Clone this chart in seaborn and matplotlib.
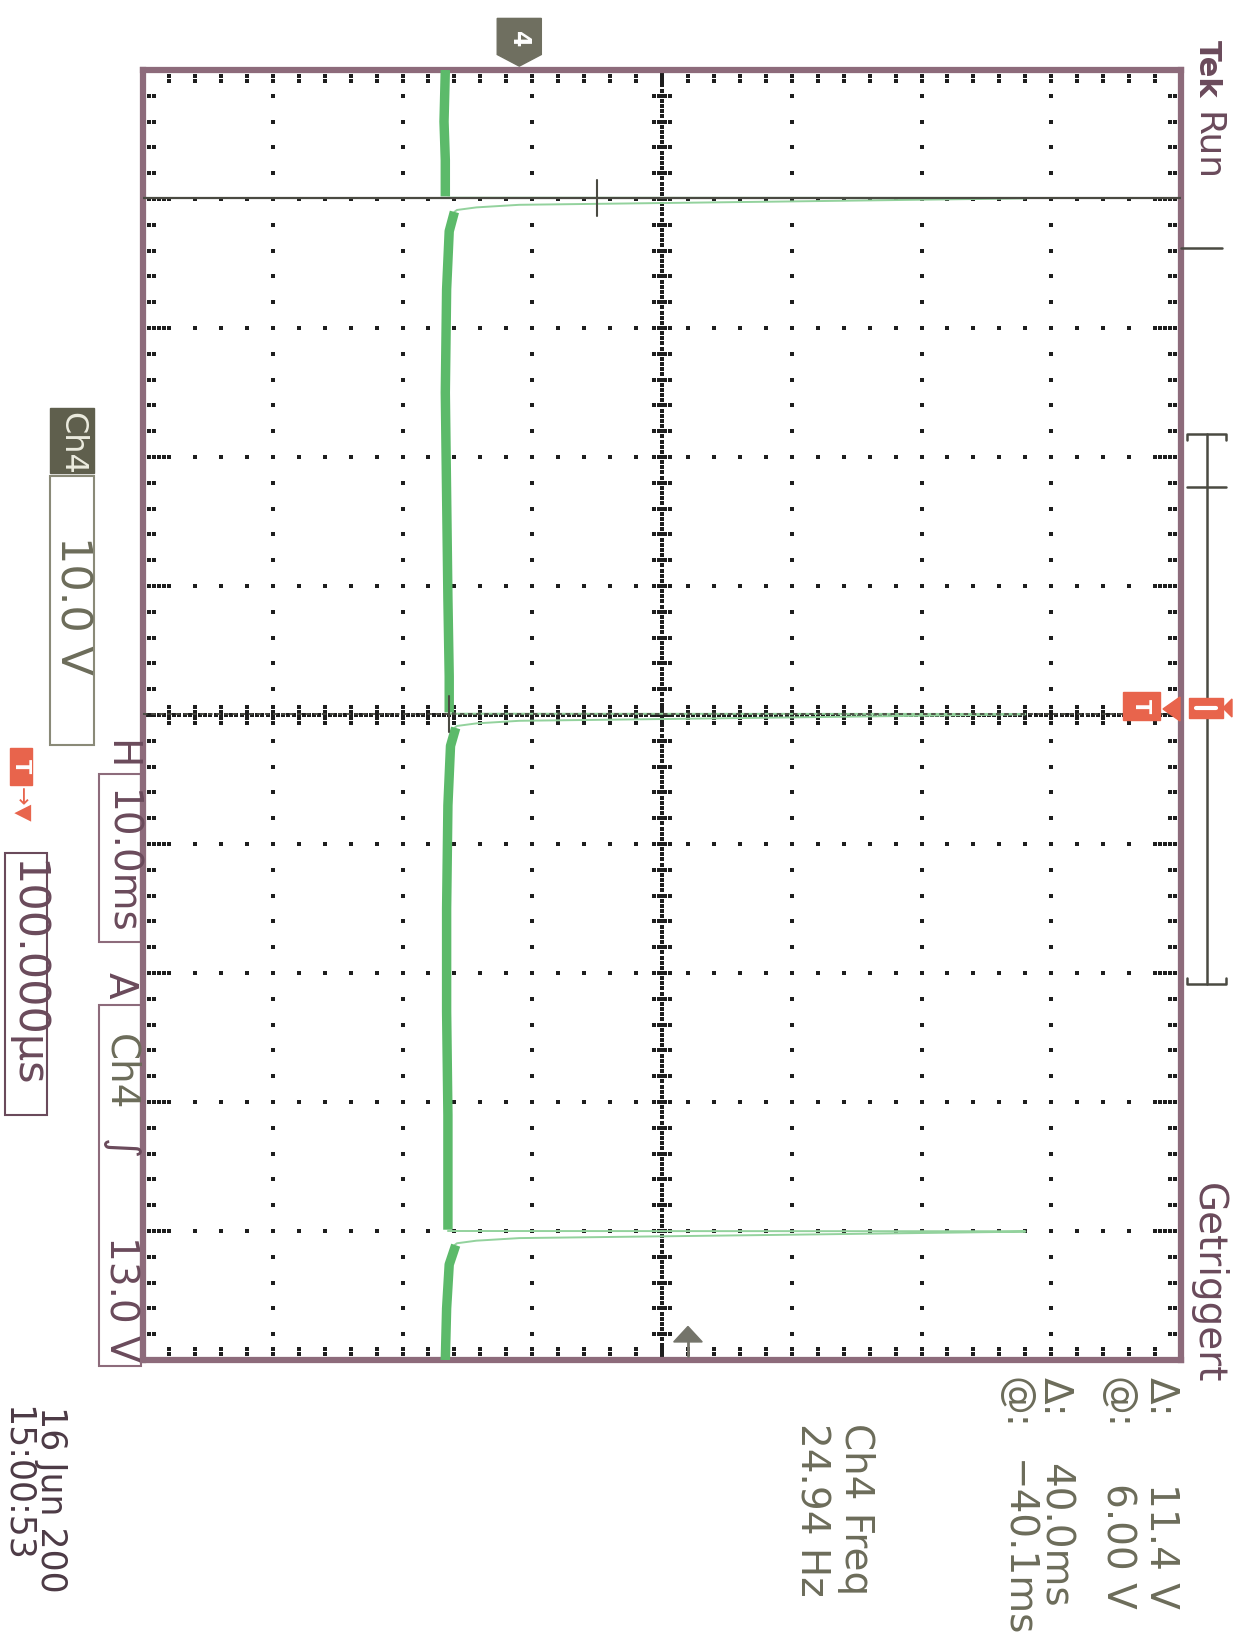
import numpy as np
import pandas as pd
import matplotlib
matplotlib.use("Agg")
import matplotlib.pyplot as plt
import seaborn as sns
from matplotlib.patches import Rectangle, Polygon

# scope settings
volts_div = 10.0
ms_div = 10.0
v_center = 11.0          # ground marker sits 1.1 div below screen centre
trig_level = 13.0

# waveform (time in ms, level in V)
pulse_times = [-40.1, -0.1, 40.0]
pulse_dt = [0.0, 0.02, 0.05, 0.3, 0.55, 0.75, 0.95, 1.1]
pulse_v = [-5.5, 39.0, 39.0, 20.0, 0.0, -3.3, -4.8, -5.0]

base_t = [[-50, -46, -43, -40.2],
          [-39.0, -37.5, -33, -25, -17, -9, -3, -0.2],
          [1.0, 2.4, 7, 15, 23, 31, 37, 39.9],
          [41.1, 42.6, 46, 50]]
base_v = [[-5.7, -5.8, -5.7, -5.7],
          [-5.0, -5.4, -5.6, -5.7, -5.6, -5.5, -5.4, -5.4],
          [-4.9, -5.3, -5.5, -5.6, -5.6, -5.5, -5.5, -5.5],
          [-4.9, -5.4, -5.6, -5.7]]

cursor_times = [-40.1, -0.1]
cursor_levels = [6.0, -5.4]

readouts = [("Δ:", "11.4 V"), ("@:", "6.00 V"), ("Δ:", "40.0ms"), ("@:", "−40.1ms")]
freq_text = ["Ch4 Freq", "24.94 Hz"]
date_text = ["16 Jun 200", "15:00:53"]

# colours
mauve = "#8d6b7b"
purple = "#6a4a5b"
olive = "#6c6c5a"
green = "#5cba6a"
orange = "#e8644c"
cursor_col = "#4a4a42"

W, H = 1235, 1641
fig = plt.figure(figsize=(W / 100, H / 100), dpi=100)
sns.set_style("white")

left, right, top, bottom = 143, 1181, 70, 1360
ax = fig.add_axes([left / W, 1 - bottom / H, (right - left) / W, (bottom - top) / H])
ax.set_facecolor("none")

vmin, vmax = v_center - 4 * volts_div, v_center + 4 * volts_div
tmin, tmax = -5 * ms_div, 5 * ms_div
pv = (vmax - vmin) / (right - left)   # V per pixel
pt = (tmax - tmin) / (bottom - top)   # ms per pixel

# graticule dots
gx, gy = [], []
for k in range(-3, 4):
    v = v_center + k * volts_div
    if k == 0:
        tt = np.linspace(tmin, tmax, 251)[1:-1]
        for t in np.linspace(tmin, tmax, 51)[1:-1]:
            for o in (-8, -3, 3, 8):
                gx.append(v + o * pv); gy.append(t)
    else:
        tt = np.linspace(tmin, tmax, 51)[1:-1]
    gx += [v] * len(tt); gy += list(tt)
for j in range(-4, 5):
    t = j * ms_div
    if j == 0:
        vv = np.linspace(vmin, vmax, 201)[1:-1]
        for v in np.linspace(vmin, vmax, 41)[1:-1]:
            for o in (-8, -3, 3, 8):
                gx.append(v); gy.append(t + o * pt)
    else:
        vv = np.linspace(vmin, vmax, 41)[1:-1]
    gx += list(vv); gy += [t] * len(vv)
# edge ticks
for v in np.linspace(vmin, vmax, 41)[1:-1]:
    for o in (6, 11):
        gx += [v, v]; gy += [tmin + o * pt, tmax - o * pt]
for i, t in enumerate(np.linspace(tmin, tmax, 51)[1:-1]):
    offs = (6, 11, 16, 21) if (i + 1) % 5 == 0 else (6, 11)
    for o in offs:
        gx += [vmin + o * pv, vmax - o * pv]; gy += [t, t]
ax.scatter(gx, gy, s=5, marker="s", color="#1e1e1e", linewidths=0, zorder=1)

# thin fast edges of each pulse
rows = []
for n, t0 in enumerate(pulse_times):
    for dt, v in zip(pulse_dt, pulse_v):
        rows.append((n, t0 + dt, v))
thin = pd.DataFrame(rows, columns=["seg", "t", "v"])
sns.lineplot(data=thin, x="v", y="t", units="seg", estimator=None, sort=False,
             color="#93d29d", lw=1.4, legend=False, ax=ax, zorder=2)

# thick (noisy) baseline
rows = []
for n, (ts, vs) in enumerate(zip(base_t, base_v)):
    for t, v in zip(ts, vs):
        rows.append((n, t, v))
base = pd.DataFrame(rows, columns=["seg", "t", "v"])
sns.lineplot(data=base, x="v", y="t", units="seg", estimator=None, sort=False,
             color=green, lw=6.8, solid_capstyle="butt", legend=False, ax=ax, zorder=3)

# cursors
ax.axhline(cursor_times[0], color=cursor_col, lw=1.6, zorder=4)
ax.axhline(cursor_times[1], color=cursor_col, lw=1.3, ls=(0, (2.5, 2)), zorder=4)
for t, v in zip(cursor_times, cursor_levels):
    ax.plot([v, v], [t - 1.4, t + 1.4], color=cursor_col, lw=1.5, zorder=4)

ax.set_xlim(vmin, vmax)
ax.set_ylim(tmax, tmin)
ax.set_xticks([]); ax.set_yticks([])
ax.set_xlabel(""); ax.set_ylabel("")
for s in ax.spines.values():
    s.set_visible(True)
    s.set_color(mauve)
    s.set_linewidth(4.5)

# ground marker "4" at 0 V above the frame
xt = ax.get_xaxis_transform()
gnd = Polygon([(-1.7, 1.040), (1.7, 1.040), (1.7, 1.012), (0, 1.003), (-1.7, 1.012)],
              closed=True, transform=xt, clip_on=False, color="#6f6f60", zorder=6)
ax.add_patch(gnd)
ax.text(0, 1.024, "4", transform=xt, rotation=270, ha="center", va="center",
        color="white", fontsize=17, fontweight="bold", clip_on=False, zorder=7)

# trigger level arrow at the lower edge
trg = Polygon([(trig_level, 0.026), (trig_level - 1.1, 0.014), (trig_level + 1.1, 0.014)],
              closed=True, transform=xt, clip_on=False, color="#74746a", zorder=6)
ax.add_patch(trg)
ax.plot([trig_level, trig_level], [0.014, 0.003], transform=xt, color="#74746a", lw=2, zorder=6)

# overlay in pixel coordinates for the screen furniture
ov = fig.add_axes([0, 0, 1, 1])
ov.set_xlim(0, W); ov.set_ylim(H, 0)
ov.axis("off")
ov.patch.set_alpha(0)

def rtext(x, y, s, color, size=28, weight="normal", ha="center"):
    ov.text(x, y, s, rotation=270, ha=ha, va="top", color=color,
            fontsize=size, fontweight=weight, family="DejaVu Sans")

# trigger position markers on the right
ov.add_patch(Rectangle((1123, 692), 37, 28, color=orange, zorder=5))
ov.text(1141, 706, "T", rotation=270, ha="center", va="center", color="white",
        fontsize=15, fontweight="bold", zorder=6)
ov.add_patch(Polygon([(1163, 709), (1180, 697), (1180, 721)], color=orange, zorder=5))
ov.add_patch(Rectangle((1189, 698), 34, 20, color=orange, zorder=5))
ov.add_patch(Polygon([(1223, 708), (1232, 699), (1232, 717)], color=orange, zorder=5))
ov.plot([1196, 1216], [708, 708], color="white", lw=3, zorder=6)

# record view bar
bar = dict(color=cursor_col, lw=1.8)
ov.plot([1181, 1222], [248, 248], **bar)
ov.plot([1207, 1207], [434, 984], **bar)
ov.plot([1187, 1187, 1226, 1226], [440, 434, 434, 440], **bar)
ov.plot([1187, 1226], [487, 487], **bar)
ov.plot([1187, 1187, 1226, 1226], [978, 984, 984, 978], **bar)

# status texts
rtext(1207, 40, "Tek", purple, size=22, weight="bold")
rtext(1207, 112, "Run", purple, size=26)
rtext(1208, 1183, "Getriggert", purple)
for (lab, val), x, y in zip(readouts, [1161, 1118, 1055, 1016], [1483, 1483, 1463, 1460]):
    rtext(x, 1377, lab, olive)
    rtext(x, y, val, olive)
rtext(856, 1423, freq_text[0], olive)
rtext(811, 1423, freq_text[1], olive)
rtext(34, 1406, date_text[0], "#4c3a45", size=25, ha="left")
rtext(34, 1406, date_text[1], "#4c3a45", size=25, ha="right")

# channel / timebase boxes on the left
ov.add_patch(Rectangle((50, 408), 44, 65, color="#5f5f4d"))
rtext(72, 412, "Ch4", "#ececdf", size=23)
ov.add_patch(Rectangle((50, 476), 44, 269, fill=False, ec="#8a8a78", lw=1.5))
rtext(72, 536, "10.0 V", olive, size=31)
rtext(120, 740, "H", purple)
ov.add_patch(Rectangle((99, 774), 42, 168, fill=False, ec=mauve, lw=1.5))
rtext(120, 790, "10.0ms", purple)
rtext(120, 972, "A", purple)
ov.add_patch(Rectangle((99, 1005), 42, 361, fill=False, ec=mauve, lw=1.5))
rtext(120, 1034, "Ch4", olive)
rtext(120, 1139, "∫", purple)
rtext(120, 1236, "13.0 V", purple)
ov.add_patch(Rectangle((10, 748), 22, 37, color=orange))
ov.text(21, 766, "T", rotation=270, ha="center", va="center", color="white",
        fontsize=15, fontweight="bold")
rtext(21, 787, "→▼", orange, size=16)
ov.add_patch(Rectangle((5, 853), 42, 262, fill=False, ec=purple, lw=1.5))
rtext(26, 860, "100.000µs", purple, size=31)

fig.savefig("out.png", dpi=100, facecolor="white")
